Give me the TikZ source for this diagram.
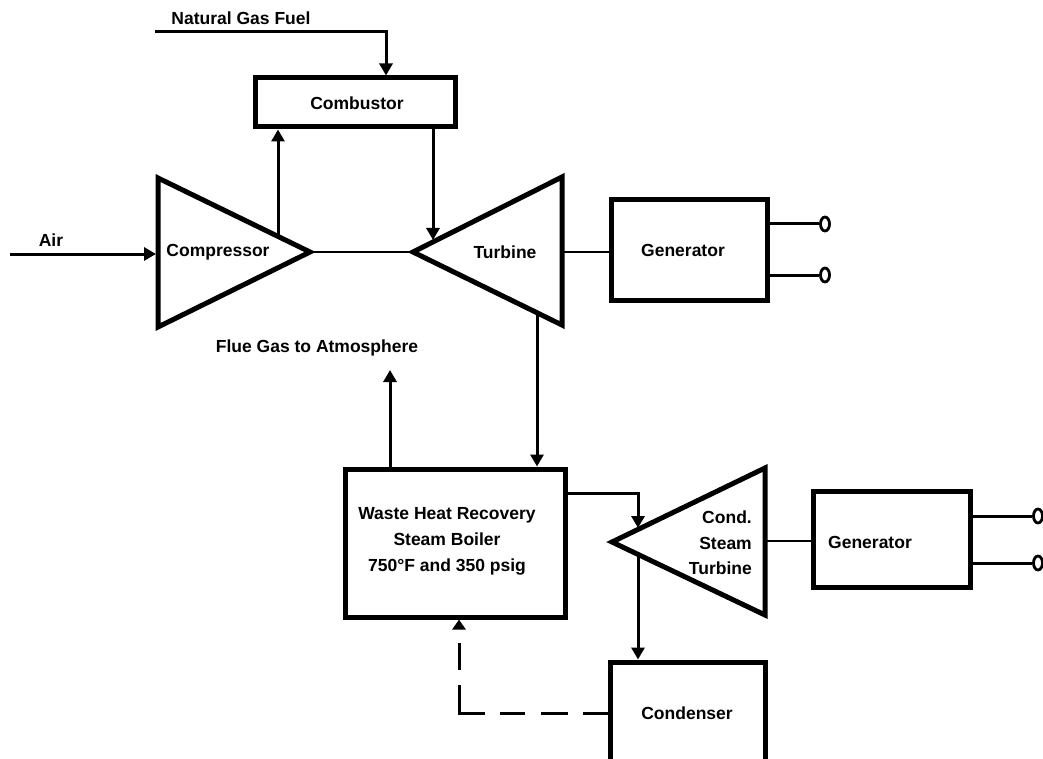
\documentclass[tikz,border=0pt]{standalone}
\usepackage{fontspec}
\setmainfont{Liberation Sans}
\usetikzlibrary{arrows.meta,calc,shapes.geometric}
\begin{document}
\begin{tikzpicture}[x=1pt,y=-1pt,
  lbl/.style={font=\bfseries\fontsize{17.5}{21}\selectfont, inner sep=0pt},
  unitbox/.style={draw, line width=5pt, inner sep=0pt, minimum width=#1},
  tri/.style={draw, line width=5pt, line join=miter},
  flow/.style={line width=3pt, -{Triangle[length=12pt,width=13pt]}},
  shaft/.style={line width=2pt},
  wire/.style={line width=3pt},
  term/.style={draw, ellipse, line width=2.8pt, inner sep=0pt, minimum width=9pt, minimum height=14pt},
  retline/.style={line width=3pt, dash pattern=on 25pt off 15pt on 27pt off 16pt on 25pt off 15pt on 54pt off 15pt on 27pt off 40pt}
]
\useasboundingbox (0,0) rectangle (1043,759);
\clip (0,0) rectangle (1043,759);

% boxes
\node[unitbox=200pt, minimum height=49pt] (comb) at (355,102.5) {};
\node[unitbox=156pt, minimum height=100pt] (gen1) at (689,250) {};
\node[unitbox=220pt, minimum height=148pt] (whrb) at (455,543) {};
\node[unitbox=155pt, minimum height=108pt] (cond) at (687.5,716) {};
\node[unitbox=157pt, minimum height=96pt] (gen2) at (891.5,539) {};

% triangles
\coordinate (c1) at (158,178);
\coordinate (c2) at (158,327);
\coordinate (capex) at (310,252);
\coordinate (tapex) at (413,252);
\coordinate (t1) at (562,177);
\coordinate (t2) at (562,325);
\coordinate (sapex) at (612,542);
\coordinate (s1) at (765,468);
\coordinate (s2) at (765,615);
\draw[tri] (c1) -- (capex) -- (c2) -- cycle;
\draw[tri] (tapex) -- (t1) -- (t2) -- cycle;
\draw[tri] (sapex) -- (s1) -- (s2) -- cycle;

% labels
\node[lbl] (tfuel) at (241,18) {Natural Gas Fuel};
\node[lbl] (tcomb) at (357,103) {Combustor};
\node[lbl] (tair) at (51,240) {Air};
\node[lbl] (tcomp) at (218,252) {Compressor};
\node[lbl] (tturb) at (505,252) {Turbine};
\node[lbl] (tgen1) at (683,250) {Generator};
\node[lbl] (tflue) at (317,348) {Flue Gas to Atmosphere};
\node[lbl, align=center, font=\bfseries\fontsize{17.5}{26}\selectfont] (twhrb) at (447,541) {Waste Heat Recovery\\Steam Boiler\\750°F and 350 psig};
\node[lbl, align=right, font=\bfseries\fontsize{17.5}{25.5}\selectfont, anchor=east] (tcst) at (752,543) {Cond.\\Steam\\Turbine};
\node[lbl] (tgen2) at (870,542) {Generator};
\node[lbl] (tcond) at (687,713) {Condenser};

% terminals
\node[term] (g1a) at (825,224) {};
\node[term] (g1b) at (825,275) {};
\node[term] (g2a) at (1038,516) {};
\node[term] (g2b) at (1038,563) {};

% connector coordinates
\coordinate (fuelstart) at (155,32);
\coordinate (fuelin) at (386,32);
\coordinate (airstart) at (10,254);
\coordinate (cin) at (156,254);
\coordinate (cout) at (278,236);
\coordinate (tin) at (433,240);
\coordinate (tshaft) at (562,252);
\coordinate (tex) at (537,313);
\coordinate (flue) at (390,370);
\coordinate (wout) at (566,493);
\coordinate (sin) at (638,528);
\coordinate (sout) at (638,555);
\coordinate (sshaft) at (765,541);
\coordinate (ret) at (459,713);

% connectors
\draw[flow] (fuelstart) -- (fuelin) -- (comb.north -| fuelin);
\draw[flow] (airstart) -- (cin);
\draw[flow] (cout) -- (comb.south -| cout);
\draw[flow] (comb.south -| tin) -- (tin);
\draw[shaft] (capex) -- (tapex);
\draw[shaft] (tshaft) -- (tshaft -| gen1.west);
\draw[wire] (gen1.east |- g1a) -- (g1a.west);
\draw[wire] (gen1.east |- g1b) -- (g1b.west);
\draw[flow] (tex) -- (whrb.north -| tex);
\draw[flow] (whrb.north -| flue) -- (flue);
\draw[flow] (wout) -| (sin);
\draw[flow] (sout) -- (cond.north -| sout);
\draw[shaft] (sshaft) -- (sshaft -| gen2.west);
\draw[wire] (gen2.east |- g2a) -- (g2a.west);
\draw[wire] (gen2.east |- g2b) -- (g2b.west);
\draw[retline, -{Triangle[length=10pt,width=13pt]}] (cond.west |- ret) -- (ret) -- (whrb.south -| ret);
\end{tikzpicture}
\end{document}
